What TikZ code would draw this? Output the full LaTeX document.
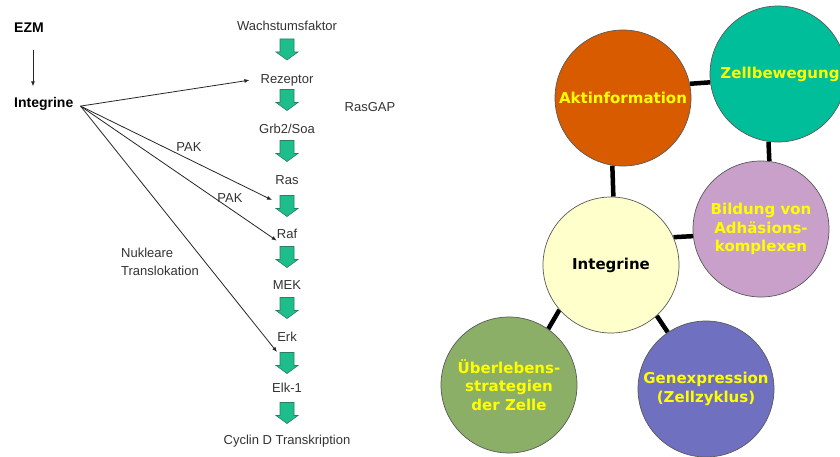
\documentclass[tikz,border=0pt]{standalone}
\usepackage{fontspec}
\setmainfont{Liberation Sans}
\newfontfamily\dvb{DejaVu Sans}
\usetikzlibrary{arrows.meta}
\pgfdeclarelayer{background}
\pgfsetlayers{background,main}
\definecolor{corange}{HTML}{D95B00}
\definecolor{cteal}{HTML}{00BE9A}
\definecolor{cmauve}{HTML}{C9A0CA}
\definecolor{ccream}{HTML}{FFFFCC}
\definecolor{colive}{HTML}{8CAF68}
\definecolor{cblue}{HTML}{7070C0}
\definecolor{ctxt}{HTML}{FFFF00}
\definecolor{garrfill}{HTML}{1EBE8C}
\definecolor{garrline}{HTML}{2A7F62}
\definecolor{lgray}{HTML}{333333}
\tikzset{
  lbl/.style={font=\fontsize{13}{15}\selectfont, text=lgray, inner sep=0pt, anchor=base},
  blbl/.style={font=\fontsize{14}{16}\selectfont\bfseries, text=black, inner sep=0pt, anchor=base west},
  tarr/.style={draw=black!85, line width=0.8pt, -{Latex[length=5pt,width=4pt]}},
  garrow/.pic={\draw[fill=garrfill, draw=garrline, line width=0.6pt]
     (-7,-10.5) -- (7,-10.5) -- (7,2.5) -- (11,2.5) -- (0,10.5) -- (-11,2.5) -- (-7,2.5) -- cycle;},
  circ/.style={circle, draw=black!65, line width=0.7pt, minimum size=136pt, inner sep=0pt,
     font=\dvb\bfseries\fontsize{15}{18.5}\selectfont, text=ctxt, align=center},
  link/.style={line width=4.5pt, draw=black}
}
\begin{document}
\begin{tikzpicture}[x=1pt,y=-1pt]
\clip (0,0) rectangle (840,457);
% left panel
\node[blbl] (ezm) at (14,32.3) {EZM};
\node[blbl] (integ) at (14,107.7) {Integrine};
\node[lbl] (wachs) at (287,30.7) {Wachstumsfaktor};
\node[lbl] (rez) at (287,83.3) {Rezeptor};
\node[lbl] (grb) at (287,134) {Grb2/Soa};
\node[lbl] (ras) at (287,185) {Ras};
\node[lbl] (raf) at (287,238.3) {Raf};
\node[lbl] (mek) at (287,289.3) {MEK};
\node[lbl] (erk) at (287,341.7) {Erk};
\node[lbl] (elk) at (287,392.7) {Elk-1};
\node[lbl] (cyc) at (287,444) {Cyclin D Transkription};
\node[lbl] (rasgap) at (370,111.7) {RasGAP};
\node[lbl] (pak1) at (189,151.7) {PAK};
\node[lbl] (pak2) at (230,202.3) {PAK};
\node[lbl, anchor=base west] (nuk1) at (121,257.7) {Nukleare};
\node[lbl, anchor=base west] (nuk2) at (121,275) {Translokation};
\foreach \y in {49.5,100,151,206,257,308,363,413} \pic at (287,\y) {garrow};
% thin connectors
\coordinate (ezmout) at ([xshift=4pt,yshift=-18pt]ezm.south);
\coordinate (integin) at ([xshift=-9pt,yshift=11pt]integ.north);
\draw[tarr] (ezmout) -- (ezmout |- integin);
\coordinate (iout) at ([xshift=7pt,yshift=-2pt]integ.east);
\coordinate (rasin) at (272,200);
\coordinate (erkin) at (277,352);
\draw[tarr] (iout) -- ([xshift=-11pt]rez.west);
\draw[tarr] (iout) -- (rasin);
\draw[tarr] (iout) -- ([yshift=-2pt]raf.south west);
\draw[tarr] (iout) -- (erkin);
% right panel
\node[circ, fill=corange] (akt) at (623,98) {Aktinformation};
\node[circ, fill=cteal] (zell) at (778,74) {\hspace*{4pt}Zellbewegung};
\node[circ, fill=cmauve] (bild) at (761,229) {Bildung von\\Adhäsions-\\komplexen};
\node[circ, fill=ccream, text=black] (intc) at (611,265) {Integrine};
\node[circ, fill=colive] (uber) at (509,385) {Überlebens-\\strategien\\der Zelle};
\node[circ, fill=cblue] (gen) at (706,389) {Genexpression\\(Zellzyklus)};
\begin{pgfonlayer}{background}
\draw[link] (akt.12.7) -- (zell.187.6);
\draw[link] (zell.262.4) -- (bild.83.2);
\draw[link] (akt.261.5) -- (intc.88.3);
\draw[link] (intc.24.3) -- (bild.186.8);
\draw[link] (intc.221.4) -- (uber.55.6);
\draw[link] (intc.312.6) -- (gen.124.2);
\end{pgfonlayer}
\end{tikzpicture}
\end{document}
